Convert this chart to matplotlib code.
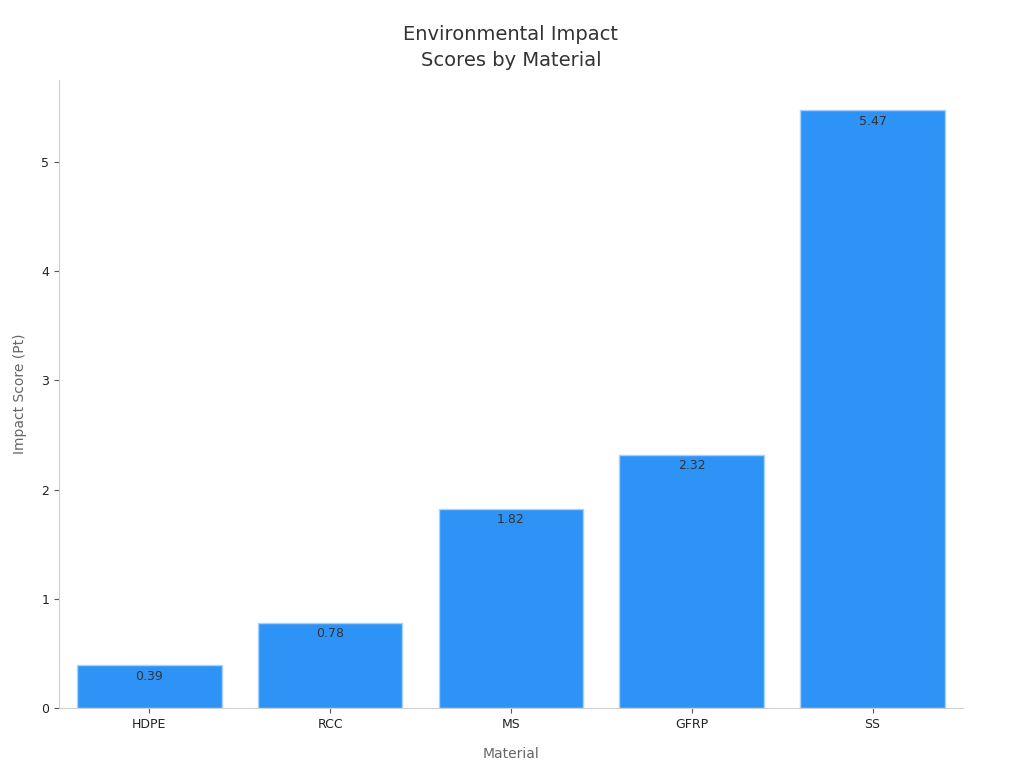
import matplotlib
matplotlib.use("Agg")
import matplotlib.pyplot as plt

materials = ["HDPE", "RCC", "MS", "GFRP", "SS"]
scores = [0.39, 0.78, 1.82, 2.32, 5.47]

fig = plt.figure(figsize=(10.24, 7.68), dpi=100)
ax = fig.add_axes([0.0576, 0.078, 0.8828, 0.818])

bars = ax.bar(range(len(materials)), scores, width=0.8, color="#2e93f7",
              edgecolor="#a8d2fb", linewidth=1)

for b, v in zip(bars, scores):
    ax.annotate(f"{v:.2f}", (b.get_x() + b.get_width() / 2, v),
                xytext=(0, -3), textcoords="offset points",
                ha="center", va="top", fontsize=9, color="#333333")

ax.set_xticks(range(len(materials)))
ax.set_xticklabels(materials)
ax.set_xlim(-0.5, 4.5)
ax.set_ylim(0, 5.75)
ax.set_yticks([0, 1, 2, 3, 4, 5])

for s in ["top", "right"]:
    ax.spines[s].set_visible(False)
for s in ["left", "bottom"]:
    ax.spines[s].set_color("#d0d0d0")
ax.tick_params(axis="both", colors="#555555", labelsize=9, labelcolor="#222222")

ax.set_xlabel("Material", fontsize=10, color="#666666", labelpad=12)
ax.set_ylabel("Impact Score (Pt)", fontsize=10, color="#666666", labelpad=10)
ax.set_title("Environmental Impact\nScores by Material", fontsize=14,
             color="#333333", pad=10, linespacing=1.45)

fig.savefig("out.png", dpi=100)
